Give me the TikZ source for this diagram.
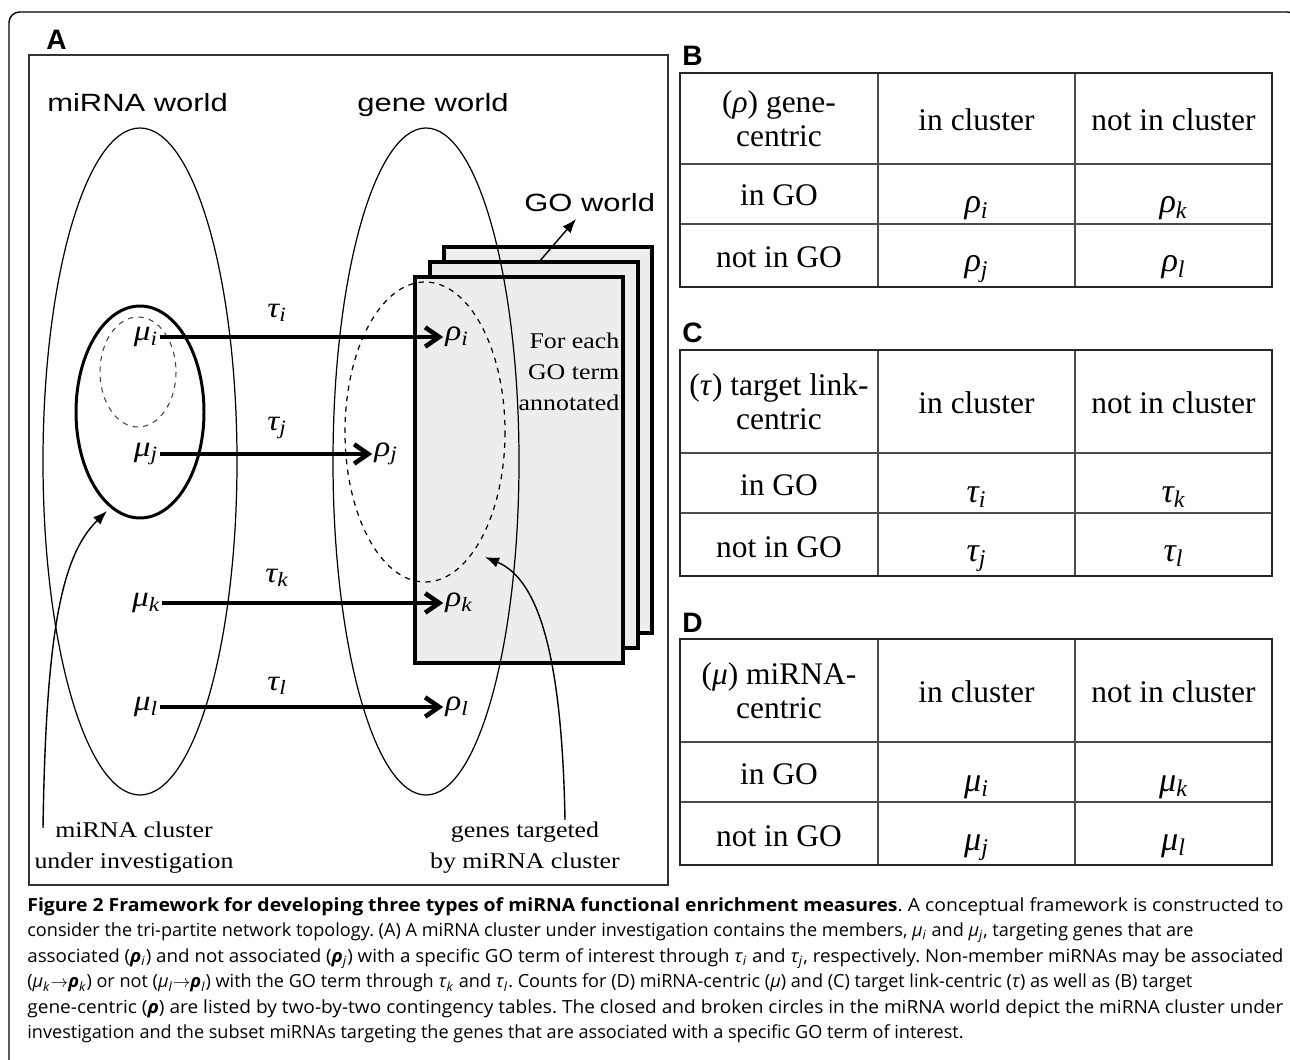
\documentclass[tikz,border=0pt]{standalone}
\usepackage{graphicx}
\usepackage{fontspec}
\setmainfont{Liberation Serif}
\newfontfamily\panelsans[FakeStretch=1.24]{Liberation Sans}
\newfontfamily\panelserif[FakeStretch=1.15]{Liberation Serif}
\newfontfamily\lettersans{Liberation Sans}
\newfontfamily\captfont{Open Sans}
\usetikzlibrary{arrows.meta}

\newcommand{\capmu}[1]{\textit{μ}\textsubscript{\textit{#1}}}
\newcommand{\caprho}[1]{\textbf{\textit{ρ}}\textsubscript{\textit{#1}}}
\newcommand{\captau}[1]{\textit{τ}\textsubscript{\textit{#1}}}
\newcommand{\capline}[1]{\resizebox{714.9pt}{\height}{#1}}

% one two-by-two table: name, letter, top, header bottom, header lines, symbol
\newcommand{\gotable}[7]{%
\node[letter, anchor=base west] (#1let) at (682,#3-7) {#2};
\draw[tabinner] (878,#3) -- (878,#4+123) (1075,#3) -- (1075,#4+123)
  (680,#4) -- (1272,#4) (680,#4+60) -- (1272,#4+60);
\draw[tabouter] (680,#3) rectangle (1272,#4+123);
\node[tabtxt] (#1hd) at (779,{(#3+#4)/2-6}) {#5};
\node[tabtxt] (#1hdb) at (779,{(#3+#4)/2+28}) {#6};
\node[tabtxt] (#1in) at (976.5,{(#3+#4)/2+12}) {in cluster};
\node[tabtxt] (#1out) at (1173.5,{(#3+#4)/2+12}) {not in cluster};
\node[tabtxt] (#1go) at (779,#4+42) {in GO};
\node[tabtxt] (#1ngo) at (779,#4+104) {not in GO};
\node[sym] (#1i) at (976.5,#4+49) {#7\textsubscript{i}};
\node[sym] (#1k) at (1173.5,#4+49) {#7\textsubscript{k}};
\node[sym] (#1j) at (976.5,#4+108) {#7\textsubscript{j}};
\node[sym] (#1l) at (1173.5,#4+108) {#7\textsubscript{l}};
}

\begin{document}
\begin{tikzpicture}[x=0.02cm, y=-0.02cm,
  frame/.style={line width=0.8pt, rounded corners=6pt},
  boxA/.style={line width=1.1pt, black!80},
  world/.style={font=\panelsans\fontsize{14.2}{17}\selectfont, inner sep=0pt},
  letter/.style={font=\lettersans\bfseries\fontsize{16}{18}\selectfont, inner sep=0pt},
  note/.style={font=\panelserif\fontsize{12.8}{17.6}\selectfont, inner sep=0pt, align=center},
  greek/.style={font=\panelserif\itshape\fontsize{16.5}{18}\selectfont, inner sep=1pt},
  page/.style={line width=2pt, fill=black!7},
  link/.style={line width=2.6pt, -{Straight Barb[length=8pt,width=11pt]}},
  ptr/.style={line width=0.8pt, -{Latex[length=8pt,width=6pt]}},
  tabouter/.style={line width=1.5pt, black!85},
  tabinner/.style={line width=1pt, black!70},
  tabtxt/.style={font=\fontsize{17.9}{20}\selectfont, inner sep=0pt, anchor=base},
  sym/.style={font=\fontsize{19.5}{22}\selectfont\itshape, inner sep=0pt, anchor=base},
  captxt/.style={font=\captfont\fontsize{10.3}{14.8}\selectfont\frenchspacing, inner sep=0pt, anchor=base west}]
\useasboundingbox (0,0) rectangle (1290,1060);
\draw[frame] (9,1070) -- (9,12) -- (1298,12) -- (1298,1070);

% panel A
\node[letter, anchor=base west] (letA) at (46,50) {A};
\draw[boxA] (29,55) rectangle (668,885);
\node[world, anchor=base west] (mworld) at (47,112) {miRNA world};
\node[world, anchor=base west] (gworld) at (357,112) {gene world};
\node[world, anchor=base west] (goworld) at (524,212) {GO world};

\foreach \dx/\dy in {29/-30, 15/-15, 0/0}
  \filldraw[page] (415+\dx,277+\dy) rectangle (623+\dx,663+\dy);
\coordinate (gostart) at (539,262);
\coordinate (gotip) at (576,219);
\draw[ptr] (gostart) -- (gotip);

\draw[line width=0.7pt] (140,461.5) ellipse [x radius=97, y radius=333.5];
\draw[line width=0.7pt] (426,461.5) ellipse [x radius=93, y radius=333.5];
\draw[line width=1.7pt] (140,412) ellipse [x radius=64, y radius=106];
\draw[dashed, line width=0.6pt, black!75] (138,372) ellipse [x radius=38, y radius=55];
\draw[dashed, line width=0.7pt] (425,432) ellipse [x radius=80, y radius=150];

\node[note, anchor=center, align=right] (foreach) at (569,372) {For each\\GO term\\annotated};

\node[greek] (mui) at (146,337) {μ\textsubscript{i}};
\node[greek] (muj) at (146,454) {μ\textsubscript{j}};
\node[greek] (muk) at (146,603) {μ\textsubscript{k}};
\node[greek] (mul) at (146,707) {μ\textsubscript{l}};
\node[greek] (rhoi) at (457,337) {ρ\textsubscript{i}};
\node[greek] (rhoj) at (386,454) {ρ\textsubscript{j}};
\node[greek] (rhok) at (459,603) {ρ\textsubscript{k}};
\node[greek] (rhol) at (457,707) {ρ\textsubscript{l}};
\draw[link] (mui) -- (rhoi);
\draw[link] (muj) -- (rhoj);
\draw[link] (muk) -- (rhok);
\draw[link] (mul) -- (rhol);
\node[greek] (taui) at (277,313) {τ\textsubscript{i}};
\node[greek] (tauj) at (277,428) {τ\textsubscript{j}};
\node[greek] (tauk) at (277,578) {τ\textsubscript{k}};
\node[greek] (taul) at (277,686) {τ\textsubscript{l}};

\node[note] (cluster) at (134,847.5) {miRNA cluster\\under investigation};
\node[note] (targeted) at (525,847.5) {genes targeted\\by miRNA cluster};
\coordinate (clstart) at (43,828);
\coordinate (cltip) at (107,511);
\draw[ptr] (clstart) .. controls (46,630) and (62,555) .. (cltip);
\coordinate (gtstart) at (565,820);
\coordinate (gttip) at (485,557);
\draw[ptr] (gtstart) .. controls (562,660) and (540,580) .. (gttip);

% panels B, C, D
\gotable{tb}{B}{73}{164}{(\textit{ρ}) gene-}{centric}{ρ}
\gotable{tc}{C}{350}{453}{(\textit{τ}) target link-}{centric}{τ}
\gotable{td}{D}{639}{742}{(\textit{μ}) miRNA-}{centric}{μ}

% caption
\node[captxt] (cap1) at (27,911) {\capline{\textbf{Figure 2 Framework for developing three types of miRNA functional enrichment measures}. A conceptual framework is constructed to}};
\node[captxt] (cap2) at (27,936.5) {consider the tri-partite network topology. (A) A miRNA cluster under investigation contains the members, \capmu{i} and \capmu{j}, targeting genes that are};
\node[captxt] (cap3) at (27,962) {\capline{associated (\caprho{i}) and not associated (\caprho{j}) with a specific GO term of interest through \captau{i} and \captau{j}, respectively. Non-member miRNAs may be associated}};
\node[captxt] (cap4) at (27,987.5) {(\capmu{k}$\rightarrow$\caprho{k}) or not (\capmu{l}$\rightarrow$\caprho{l}) with the GO term through \captau{k} and \captau{l}. Counts for (D) miRNA-centric (\textit{μ}) and (C) target link-centric (\textit{τ}) as well as (B) target};
\node[captxt] (cap5) at (27,1013) {\capline{gene-centric (\textbf{\textit{ρ}}) are listed by two-by-two contingency tables. The closed and broken circles in the miRNA world depict the miRNA cluster under}};
\node[captxt] (cap6) at (27,1038.5) {investigation and the subset miRNAs targeting the genes that are associated with a specific GO term of interest.};
\end{tikzpicture}
\end{document}
